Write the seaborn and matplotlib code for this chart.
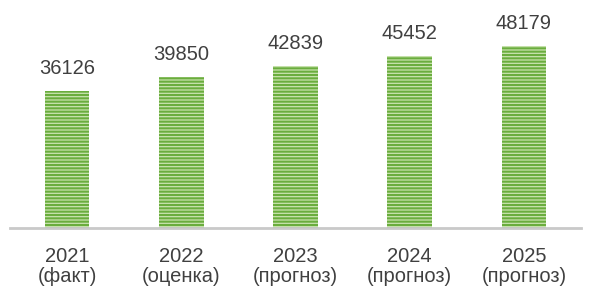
import pandas as pd
import matplotlib
matplotlib.use('Agg')
import matplotlib.pyplot as plt
import seaborn as sns

# Data
years = ['2021', '2022', '2023', '2024', '2025']
status = ['(факт)', '(оценка)', '(прогноз)', '(прогноз)', '(прогноз)']
values = [36126, 39850, 42839, 45452, 48179]

df = pd.DataFrame({'label': [f'{y}\n{s}' for y, s in zip(years, status)],
                   'value': values})

sns.set_style('white')
plt.rcParams['font.family'] = ['Liberation Sans', 'DejaVu Sans']
plt.rcParams['hatch.linewidth'] = 1.5

fig = plt.figure(figsize=(5.91, 2.90), dpi=100)
ax = fig.add_axes([10 / 591, 62 / 290, 571 / 591, 228 / 290])

sns.barplot(data=df, x='label', y='value', ax=ax, width=0.39,
            color='#c9e3ae', edgecolor='#6aad3d', linewidth=0,
            hatch='-----', saturation=1)

ax.set_ylim(0, 60200)
ax.set_xlabel('')
ax.set_ylabel('')
ax.set_yticks([])

# Value labels
for i, v in enumerate(values):
    ax.text(i, v + 3400, str(v), ha='center', va='bottom',
            fontsize=14.5, color='#404040')

# Axis styling
for side in ['top', 'right', 'left']:
    ax.spines[side].set_visible(False)
ax.spines['bottom'].set_color('#c9c9c9')
ax.spines['bottom'].set_linewidth(2)
ax.tick_params(axis='x', length=0, pad=14, labelsize=14.5, colors='#404040')
for lbl in ax.get_xticklabels():
    lbl.set_linespacing(1.05)

fig.savefig('out.png', dpi=100)
